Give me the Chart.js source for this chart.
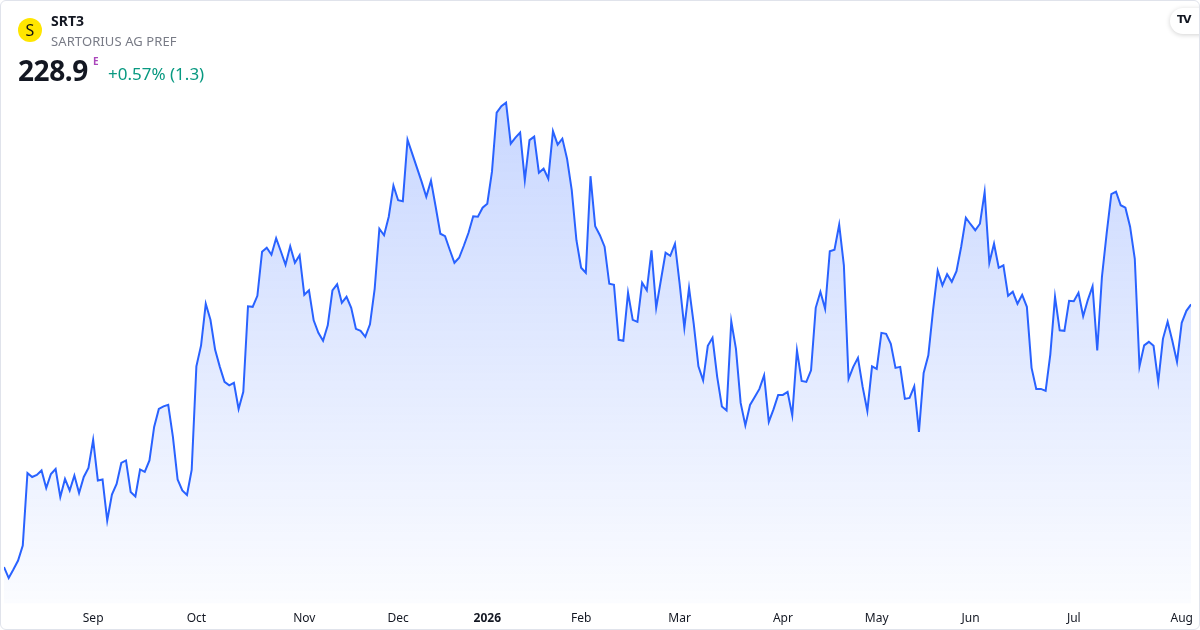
<!DOCTYPE html>
<html lang="en">
<head>
<meta charset="UTF-8">
<title>SRT3 - Sartorius AG Pref</title>
<script src="https://cdn.jsdelivr.net/npm/chart.js"></script>
<style>
    html, body { margin: 0; padding: 0; background: #fff; }
    body { width: 1200px; height: 630px; overflow: hidden; font-family: 'Noto Sans', sans-serif; }
    .card { position: relative; width: 1200px; height: 630px; box-sizing: border-box; border: 1px solid #e0e3eb; border-radius: 6px; overflow: hidden; }
    .chart-box { position: absolute; left: -1px; top: -1px; width: 1201px; height: 634px; }
    .hd { position: absolute; white-space: nowrap; line-height: normal; }
    .logo { position: absolute; left: 17px; top: 17px; width: 24px; height: 24px; border-radius: 50%; background: #ffe600; color: #111; font: 400 16px 'Noto Sans', sans-serif; text-align: center; line-height: 24px; }
    .sym { left: 50px; top: 10px; font-size: 14px; font-weight: 700; color: #131722; }
    .name { left: 50px; top: 31px; font-size: 13px; color: #787b86; letter-spacing: 0.1px; }
    .price { left: 17px; top: 50px; font-size: 28px; font-weight: 700; color: #131722; letter-spacing: -0.4px; }
    .flag { left: 92px; top: 53px; font-size: 10px; font-weight: 700; color: #ab47bc; }
    .chg { left: 107px; top: 61px; font-size: 17px; color: #089981; }
    .tv { position: absolute; left: 1169px; top: 7px; width: 44px; height: 26px; border-radius: 13px; background: #fff; box-shadow: 0 1px 5px rgba(0,0,0,0.18); }
    .tv span { position: absolute; left: 7px; top: 5px; font: 900 11px 'DejaVu Sans', sans-serif; color: #131722; letter-spacing: -1.5px; }
</style>
</head>
<body>
<div class="card">
    <div class="chart-box"><canvas id="mainChart"></canvas></div>
    <div class="logo">S</div>
    <div class="hd sym">SRT3</div>
    <div class="hd name">SARTORIUS AG PREF</div>
    <div class="hd price">228.9</div>
    <div class="hd flag">E</div>
    <div class="hd chg">+0.57% (1.3)</div>
    <div class="tv"><span>TV</span></div>
</div>

<script>
// --- DATA: daily closes, Aug 2025 .. Aug 2026 ---
const prices = [
    176.4, 174.2, 175.9, 177.7, 180.7, 195.2, 194.4, 194.8, 195.7, 192.2,
    195.0, 196.0, 190.4, 194.0, 191.7, 194.7, 191.2, 194.4, 196.2, 201.8,
    193.7, 193.9, 185.7, 190.9, 193.0, 197.2, 197.7, 191.4, 190.5, 195.9,
    195.4, 197.7, 204.4, 208.0, 208.5, 208.8, 202.4, 193.9, 191.7, 190.8,
    195.8, 216.5, 220.7, 229.0, 225.8, 219.8, 216.4, 213.4, 212.7, 213.2,
    208.0, 211.4, 228.5, 228.4, 230.6, 239.4, 240.2, 238.8, 242.1, 239.5,
    236.8, 240.5, 237.2, 238.7, 230.8, 231.7, 225.7, 223.2, 221.6, 224.7,
    231.7, 232.9, 229.2, 230.4, 228.2, 224.0, 223.6, 222.4, 224.9, 232.0,
    244.0, 242.7, 246.4, 252.6, 249.7, 249.5, 261.8, 259.0, 256.2, 253.4,
    250.4, 253.6, 248.4, 243.0, 242.5, 239.8, 237.2, 238.2, 240.6, 243.2,
    246.5, 246.4, 248.2, 249.0, 255.4, 267.2, 268.5, 269.2, 261.0, 262.2,
    263.2, 253.7, 261.7, 262.4, 255.2, 256.0, 254.0, 263.5, 260.8, 262.0,
    258.0, 251.7, 241.7, 236.2, 235.2, 254.5, 244.5, 242.7, 240.4, 233.0,
    232.8, 221.8, 221.6, 231.2, 225.8, 225.4, 233.2, 231.7, 239.7, 228.2,
    233.7, 239.2, 238.6, 241.0, 233.0, 224.2, 232.2, 225.0, 216.5, 213.7,
    220.6, 222.2, 214.4, 208.5, 207.7, 225.5, 220.0, 209.2, 204.7, 208.8,
    210.4, 212.0, 214.7, 205.4, 207.9, 210.8, 210.8, 211.4, 206.7, 219.7,
    213.6, 213.4, 215.7, 228.2, 231.4, 228.0, 239.5, 239.8, 244.8, 236.7,
    214.0, 216.4, 218.2, 212.4, 207.6, 216.5, 216.0, 223.2, 223.0, 221.0,
    216.2, 216.4, 210.0, 210.2, 212.5, 203.4, 215.2, 218.7, 227.7, 235.6,
    232.7, 234.9, 233.4, 235.5, 240.4, 246.2, 244.9, 243.7, 245.0, 251.3,
    237.2, 241.0, 236.2, 236.7, 230.6, 231.4, 229.0, 230.8, 228.4, 216.2,
    212.0, 212.0, 211.6, 218.9, 230.4, 223.7, 223.6, 229.6, 229.5, 231.2,
    226.5, 229.8, 232.5, 219.7, 234.4, 243.0, 250.9, 251.4, 248.7, 248.2,
    244.4, 238.0, 216.5, 220.7, 221.4, 220.6, 213.4, 222.0, 225.4, 221.6,
    217.4, 225.2, 227.6, 228.9
];

// month ticks: bar index of the first session of each month
const tickIndex  = [19, 41, 64, 84, 103, 123, 144, 166, 186, 206, 228, 251];
const tickLabels = ['Sep', 'Oct', 'Nov', 'Dec', '2026', 'Feb', 'Mar', 'Apr', 'May', 'Jun', 'Jul', 'Aug'];
const yearLabels = ['2026'];

const yMin = 169.1;
const yMax = 289.7;

const points = prices.map((p, i) => ({ x: i, y: p }));

new Chart(document.getElementById('mainChart'), {
    type: 'line',
    data: {
        datasets: [{
            data: points,
            borderColor: '#2962ff',
            borderWidth: 2,
            pointRadius: 0,
            tension: 0,
            fill: 'start',
            backgroundColor: ctx => {
                const area = ctx.chart.chartArea;
                if (!area) return 'rgba(41,98,255,0.15)';
                const g = ctx.chart.ctx.createLinearGradient(0, area.top, 0, area.bottom);
                g.addColorStop(0, 'rgba(41,98,255,0.30)');
                g.addColorStop(1, 'rgba(41,98,255,0.02)');
                return g;
            }
        }]
    },
    options: {
        responsive: true,
        maintainAspectRatio: false,
        animation: false,
        layout: { padding: { left: 4, right: 8, top: 0, bottom: 0 } },
        plugins: { legend: { display: false }, tooltip: { enabled: false } },
        scales: {
            x: {
                type: 'linear',
                min: 0,
                max: prices.length - 1,
                grid: { display: false, drawTicks: false },
                border: { display: false },
                afterBuildTicks: axis => { axis.ticks = tickIndex.map(v => ({ value: v })); },
                ticks: {
                    autoSkip: false,
                    maxRotation: 0,
                    padding: 8,
                    color: '#131722',
                    font: ctx => ({
                        family: "'Noto Sans', sans-serif",
                        size: 12,
                        weight: ctx.tick && yearLabels.includes(tickLabels[tickIndex.indexOf(ctx.tick.value)]) ? 'bold' : 'normal'
                    }),
                    callback: value => tickLabels[tickIndex.indexOf(value)] || ''
                }
            },
            y: { display: false, min: yMin, max: yMax }
        }
    }
});
</script>
</body>
</html>
